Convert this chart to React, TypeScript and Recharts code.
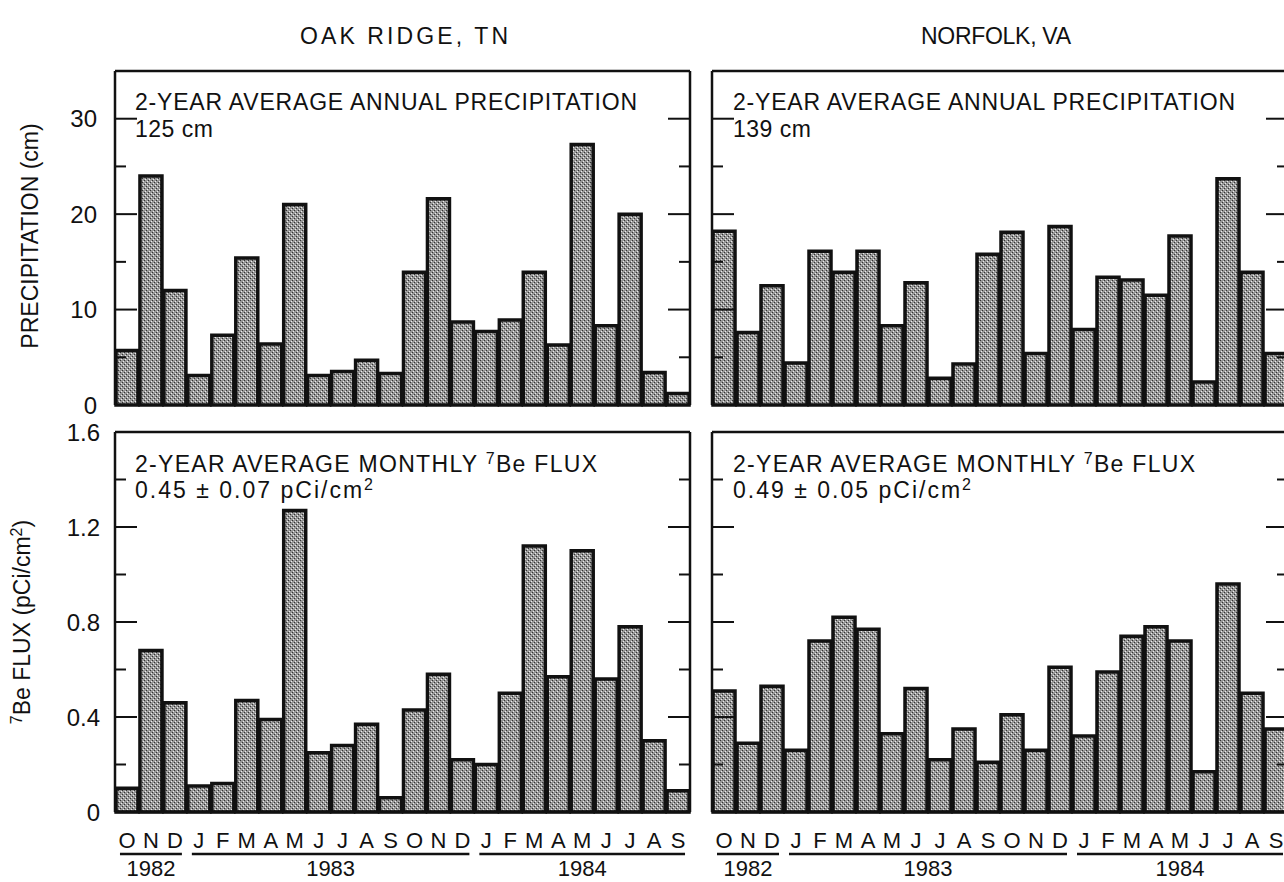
import React from 'react'
import { BarChart, Bar, XAxis, YAxis } from 'recharts'

// months from Oct 1982 to Sep 1984
const months = ['O', 'N', 'D', 'J', 'F', 'M', 'A', 'M', 'J', 'J', 'A', 'S', 'O', 'N', 'D', 'J', 'F', 'M', 'A', 'M', 'J', 'J', 'A', 'S']
const yearLabels = ['1982', '1983', '1984']
const yearFirst = [0, 3, 15]
const yearLast = [2, 14, 23]

const oakPrecip = [5.7, 24.0, 12.0, 3.1, 7.3, 15.4, 6.4, 21.0, 3.1, 3.5, 4.7, 3.3, 13.9, 21.6, 8.7, 7.7, 8.9, 13.9, 6.3, 27.3, 8.3, 20.0, 3.4, 1.2]
const norfolkPrecip = [18.2, 7.6, 12.5, 4.4, 16.1, 13.9, 16.1, 8.3, 12.8, 2.8, 4.3, 15.8, 18.1, 5.4, 18.7, 7.9, 13.4, 13.1, 11.5, 17.7, 2.4, 23.7, 13.9, 5.4]
const oakFlux = [0.1, 0.68, 0.46, 0.11, 0.12, 0.47, 0.39, 1.27, 0.25, 0.28, 0.37, 0.06, 0.43, 0.58, 0.22, 0.2, 0.5, 1.12, 0.57, 1.1, 0.56, 0.78, 0.3, 0.09]
const norfolkFlux = [0.51, 0.29, 0.53, 0.26, 0.72, 0.82, 0.77, 0.33, 0.52, 0.22, 0.35, 0.21, 0.41, 0.26, 0.61, 0.32, 0.59, 0.74, 0.78, 0.72, 0.17, 0.96, 0.5, 0.35]

const precipTicks = [0, 5, 10, 15, 20, 25, 30]
const precipMajor = [0, 10, 20, 30]
const fluxTicks = [0, 0.2, 0.4, 0.6, 0.8, 1.0, 1.2, 1.4, 1.6]
const fluxMajor = [0, 0.4, 0.8, 1.2, 1.6]

const FONT = '"Liberation Sans", Arial, sans-serif'
const INK = '#111'

const fmtPrecip = (v: number) => String(v)
const fmtFlux = (v: number) => (v === 0 ? '0' : v.toFixed(1))

function yTick(side: 'left' | 'right', majors: number[], labels: boolean, fmt: (v: number) => string, labelGap: number) {
  return (props: any) => {
    const { x, y, payload } = props
    const v = payload.value as number
    const major = majors.includes(v)
    const len = major ? 22 : 11
    const dir = side === 'left' ? 1 : -1
    return (
      <g>
        {v !== 0 && <line x1={x} x2={x + dir * len} y1={y} y2={y} stroke={INK} strokeWidth={2} />}
        {labels && major && (
          <text x={x - labelGap} y={y} dy="0.36em" textAnchor="end" fontSize={24} fontFamily={FONT} fill={INK}>
            {fmt(v)}
          </text>
        )}
      </g>
    )
  }
}

function monthTick(bw: number) {
  return (props: any) => {
    const { x, y, index } = props
    const g = yearFirst.indexOf(index)
    return (
      <g>
        <text x={x} y={y + 36} textAnchor="middle" fontSize={22} fontFamily={FONT} fill={INK}>
          {months[index]}
        </text>
        {g >= 0 && (
          <g>
            <line
              x1={x - 7}
              x2={x + (yearLast[g] - yearFirst[g]) * bw + 7}
              y1={y + 42}
              y2={y + 42}
              stroke={INK}
              strokeWidth={2.5}
            />
            <text
              x={x + ((yearLast[g] - yearFirst[g]) * bw) / 2}
              y={y + 64}
              textAnchor="middle"
              fontSize={22}
              fontFamily={FONT}
              fill={INK}
            >
              {yearLabels[g]}
            </text>
          </g>
        )}
      </g>
    )
  }
}

interface PanelProps {
  id: string
  values: number[]
  left: number
  top: number
  width: number
  height: number
  margin: { top: number; right: number; bottom: number; left: number }
  leftW: number
  bottomH: number
  domain: [number, number]
  ticks: number[]
  majors: number[]
  fmt: (v: number) => string
  labelGap: number
  showLabels: boolean
  showMonths: boolean
}

function Panel(p: PanelProps) {
  const data = p.values.map((v, i) => ({ key: `${months[i]}${i}`, v }))
  const plotW = p.width - p.margin.left - p.margin.right - p.leftW - 1
  const bw = plotW / months.length
  const frame = { stroke: INK, strokeWidth: 2.5 }
  return (
    <div style={{ position: 'absolute', left: p.left, top: p.top }}>
      <BarChart width={p.width} height={p.height} data={data} margin={p.margin} barCategoryGap={1}>
        <defs>
          <pattern id={`stip-${p.id}`} width={4} height={4} patternUnits="userSpaceOnUse">
            <rect width={4} height={4} fill="#979797" />
            <rect x={0} y={0} width={1} height={1} fill="#333" />
            <rect x={2} y={2} width={1} height={1} fill="#333" />
            <rect x={1} y={3} width={1} height={1} fill="#ececec" />
            <rect x={3} y={1} width={1} height={1} fill="#ececec" />
          </pattern>
        </defs>
        <XAxis
          dataKey="key"
          height={p.bottomH}
          interval={0}
          tickSize={0}
          tickMargin={0}
          tickLine={false}
          axisLine={frame}
          tick={p.showMonths ? monthTick(bw) : false}
        />
        <XAxis xAxisId="t" dataKey="key" orientation="top" height={1} tick={false} tickLine={false} axisLine={frame} />
        <YAxis
          type="number"
          domain={p.domain}
          ticks={p.ticks}
          width={p.leftW}
          tickSize={0}
          tickMargin={0}
          tickLine={false}
          axisLine={frame}
          interval={0}
          tick={yTick('left', p.majors, p.showLabels, p.fmt, p.labelGap)}
        />
        <YAxis
          yAxisId="r"
          orientation="right"
          type="number"
          domain={p.domain}
          ticks={p.ticks}
          width={1}
          tickSize={0}
          tickMargin={0}
          tickLine={false}
          axisLine={frame}
          interval={0}
          tick={yTick('right', p.majors, false, p.fmt, 0)}
        />
        <Bar dataKey="v" fill={`url(#stip-${p.id})`} stroke={INK} strokeWidth={3.5} isAnimationActive={false} />
        {/* invisible copy so that the top and right frame axes get a domain */}
        <Bar xAxisId="t" yAxisId="r" dataKey="v" fill="none" stroke="none" isAnimationActive={false} />
      </BarChart>
    </div>
  )
}

export default function App() {
  const txt = { fontFamily: FONT, fill: INK }
  return (
    <div
      style={{
        position: 'absolute',
        left: 0,
        top: 0,
        width: 1284,
        height: 882,
        overflow: 'hidden',
        background: '#fff',
      }}
    >
      <Panel
        id="tl"
        values={oakPrecip}
        left={0}
        top={0}
        width={700}
        height={420}
        margin={{ top: 70, right: 9, bottom: 15, left: 0 }}
        leftW={115}
        bottomH={0}
        domain={[0, 35]}
        ticks={precipTicks}
        majors={precipMajor}
        fmt={fmtPrecip}
        labelGap={18}
        showLabels
        showMonths={false}
      />
      <Panel
        id="bl"
        values={oakFlux}
        left={0}
        top={420}
        width={700}
        height={462}
        margin={{ top: 11, right: 9, bottom: 0, left: 0 }}
        leftW={115}
        bottomH={70}
        domain={[0, 1.6]}
        ticks={fluxTicks}
        majors={fluxMajor}
        fmt={fmtFlux}
        labelGap={15}
        showLabels
        showMonths
      />
      <Panel
        id="tr"
        values={norfolkPrecip}
        left={700}
        top={0}
        width={589}
        height={420}
        margin={{ top: 70, right: 0, bottom: 15, left: 0 }}
        leftW={12}
        bottomH={0}
        domain={[0, 35]}
        ticks={precipTicks}
        majors={precipMajor}
        fmt={fmtPrecip}
        labelGap={18}
        showLabels={false}
        showMonths={false}
      />
      <Panel
        id="br"
        values={norfolkFlux}
        left={700}
        top={420}
        width={589}
        height={462}
        margin={{ top: 11, right: 0, bottom: 0, left: 0 }}
        leftW={12}
        bottomH={70}
        domain={[0, 1.6]}
        ticks={fluxTicks}
        majors={fluxMajor}
        fmt={fmtFlux}
        labelGap={15}
        showLabels={false}
        showMonths
      />

      <svg width={1284} height={882} style={{ position: 'absolute', left: 0, top: 0, pointerEvents: 'none' }}>
        <text x={404} y={44} textAnchor="middle" fontSize={23} textLength={208} lengthAdjust="spacing" {...txt}>
          OAK RIDGE, TN
        </text>
        <text x={996} y={44} textAnchor="middle" fontSize={23} textLength={150} lengthAdjust="spacing" {...txt}>
          NORFOLK, VA
        </text>

        <text x={30} y={236} transform="rotate(-90 30 236)" textAnchor="middle" dy="0.35em" fontSize={23} {...txt}>
          PRECIPITATION (cm)
        </text>
        <text x={30} y={622} transform="rotate(-90 30 622)" textAnchor="middle" dy="0.35em" fontSize={23} {...txt}>
          <tspan fontSize={16} dy={-8}>7</tspan>
          <tspan dy={8}>Be FLUX (pCi/cm</tspan>
          <tspan fontSize={16} dy={-8}>2</tspan>
          <tspan dy={8}>)</tspan>
        </text>

        {[135, 733].map((x, i) => (
          <g key={x}>
            <text x={x} y={110} fontSize={23} textLength={502} lengthAdjust="spacing" {...txt}>
              2-YEAR AVERAGE ANNUAL PRECIPITATION
            </text>
            <text x={x} y={137} fontSize={23} textLength={78} lengthAdjust="spacing" {...txt}>
              {i === 0 ? '125 cm' : '139 cm'}
            </text>
            <text x={x} y={472} fontSize={23} textLength={462} lengthAdjust="spacing" {...txt}>
              2-YEAR AVERAGE MONTHLY <tspan fontSize={16} dy={-8}>7</tspan>
              <tspan dy={8}>Be FLUX</tspan>
            </text>
            <text x={x} y={498} fontSize={23} textLength={238} lengthAdjust="spacing" {...txt}>
              {i === 0 ? '0.45 ± 0.07 pCi/cm' : '0.49 ± 0.05 pCi/cm'}
              <tspan fontSize={16} dy={-8}>2</tspan>
            </text>
          </g>
        ))}
      </svg>
    </div>
  )
}
